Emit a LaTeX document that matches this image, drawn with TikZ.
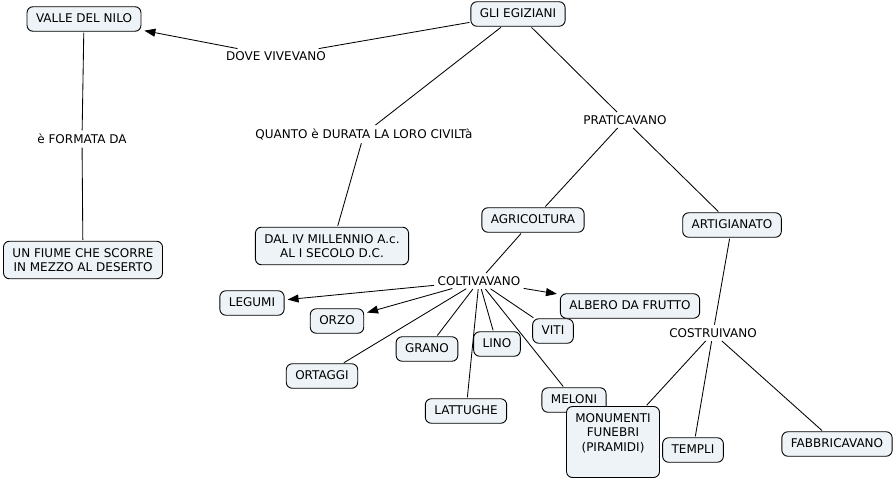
\documentclass[tikz,border=0pt]{standalone}
\usepackage{fontspec}
\setmainfont{DejaVu Sans}
\usetikzlibrary{arrows.meta}
\definecolor{boxfill}{RGB}{237,243,246}

\begin{document}
\begin{tikzpicture}[x=1pt, y=-1pt,
font=\fontsize{12}{14.5}\selectfont,
concept/.style={draw, fill=boxfill, rounded corners=6pt, line width=0.9pt,
    inner xsep=9pt, inner ysep=6.5pt, text height=9pt, text depth=2.5pt},
multi/.style={concept, align=center, text height=, text depth=, inner ysep=7pt},
phrase/.style={inner sep=2.5pt},
link/.style={line width=0.85pt, shorten <=1pt, shorten >=1pt},
arrowlink/.style={link, -{Triangle[length=11pt,width=8pt]}, shorten >=3pt}]

\useasboundingbox (0,0) rectangle (896,479);

% CONCEPTS
\node[concept] (egiziani) at (518,14) {GLI EGIZIANI};
\node[concept] (valle) at (84,19) {VALLE DEL NILO};
\node[multi] (fiume) at (83,260) {UN FIUME CHE SCORRE\\IN MEZZO AL DESERTO};
\node[multi] (periodo) at (332,246) {DAL IV MILLENNIO A.c.\\AL I SECOLO D.C.};
\node[concept] (agricoltura) at (533,220) {AGRICOLTURA};
\node[concept] (artigianato) at (732,225) {ARTIGIANATO};

% crops
\node[concept] (legumi) at (252,303) {LEGUMI};
\node[concept] (orzo) at (337,321) {ORZO};
\node[concept] (ortaggi) at (322,376) {ORTAGGI};
\node[concept] (grano) at (427,349) {GRANO};
\node[concept] (lattughe) at (466,411) {LATTUGHE};
\node[concept] (lino) at (497,344) {LINO};
\node[concept] (viti) at (553,331) {VITI};
\node[concept] (albero) at (630,306) {ALBERO DA FRUTTO};
\node[concept] (meloni) at (574,400) {MELONI};

% buildings
\node[concept, minimum width=93pt, minimum height=71pt,
    label={[align=center, anchor=north, inner sep=0pt, yshift=-7pt]north:MONUMENTI\\FUNEBRI\\(PIRAMIDI)}]
    (monumenti) at (613,442) {};
\node[concept] (templi) at (693,450) {TEMPLI};
\node[concept] (fabbricavano) at (837,444) {FABBRICAVANO};

% LINKING PHRASES
\node[phrase] (dove) at (276,56) {DOVE VIVEVANO};
\node[phrase] (formata) at (82,139) {è FORMATA DA};
\node[phrase] (quanto) at (364,134) {QUANTO è DURATA LA LORO CIVILTà};
\node[phrase] (praticavano) at (625,120) {PRATICAVANO};
\node[phrase] (coltivavano) at (479,281) {COLTIVAVANO};
\node[phrase] (costruivano) at (713,333) {COSTRUIVANO};

% links
\draw[link] (egiziani) -- (dove);
\draw[arrowlink] (dove) -- (valle);
\draw[link] (valle) -- (formata);
\draw[link] (formata) -- (fiume);
\draw[link] (egiziani) -- (quanto);
\draw[link] (quanto) -- (periodo);
\draw[link] (egiziani) -- (praticavano);
\draw[link] (praticavano) -- (agricoltura);
\draw[link] (praticavano) -- (artigianato);
\draw[link] (agricoltura) -- (coltivavano);

\foreach \crop in {legumi,orzo,albero}
    \draw[arrowlink] (coltivavano) -- (\crop);
\foreach \crop in {ortaggi,grano,lattughe,lino,viti,meloni}
    \draw[link] (coltivavano) -- (\crop);

\draw[link] (artigianato) -- (costruivano);
\foreach \opera in {monumenti,templi,fabbricavano}
    \draw[link] (costruivano) -- (\opera);

\end{tikzpicture}
\end{document}
